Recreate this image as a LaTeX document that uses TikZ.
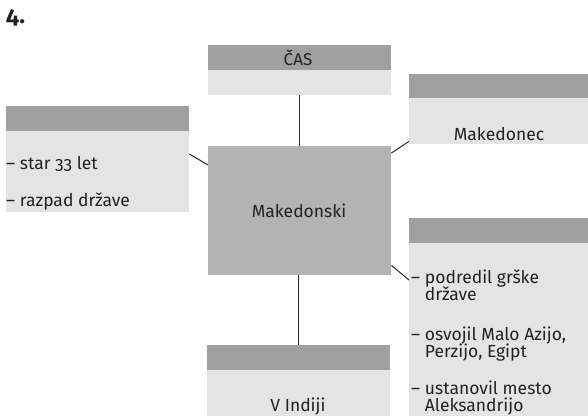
\documentclass[tikz,border=0pt]{standalone}
\usepackage{fontspec}
\setmainfont[Numbers=OldStyle]{Fira Sans}
\usetikzlibrary{calc}
\definecolor{hdr}{RGB}{160,160,160}
\definecolor{bodyc}{RGB}{228,228,228}
\definecolor{mid}{RGB}{179,179,179}
\definecolor{txt}{RGB}{34,34,34}
\newcommand{\dashind}{\hphantom{– }}
\tikzset{
  hdrbox/.style={fill=hdr, draw=none, anchor=north west, inner sep=0pt, minimum height=25pt},
  bodybox/.style={fill=bodyc, draw=none, anchor=north west, inner sep=0pt},
  midbox/.style={fill=mid, draw=none, anchor=north west, inner sep=0pt},
  lbl/.style={text=txt, font=\fontsize{17.5}{18}\selectfont, inner sep=0pt},
  conn/.style={draw=black!85, line width=1pt}
}
\begin{document}
\begin{tikzpicture}[x=1pt,y=-1pt]
\useasboundingbox (0,0) rectangle (588,416);
% title
\node[anchor=base west, inner sep=0pt, font=\fontsize{24}{25}\selectfont\bfseries, text=txt] (title) at (6,23) {4.};
% CAS
\node[hdrbox, minimum width=183pt] (casH) at (208,45) {};
\node[bodybox, minimum width=183pt, minimum height=25pt] (casB) at (208,70) {};
\node[lbl, anchor=base, font=\fontsize{17}{18}\selectfont] (casT) at (298,65) {ČAS};
% center
\node[midbox, minimum width=183pt, minimum height=129pt] (center) at (208,146) {};
\node[lbl, anchor=base] (centT) at (299,217) {Makedonski};
% Makedonec
\node[hdrbox, minimum width=179pt, minimum height=24pt] (makH) at (409,74) {};
\node[bodybox, minimum width=179pt, minimum height=46pt] (makB) at (409,98) {};
\node[lbl, anchor=base] (makT) at (499,140) {Makedonec};
% left
\node[hdrbox, minimum width=183pt] (leftH) at (6,106) {};
\node[bodybox, minimum width=183pt, minimum height=81pt] (leftB) at (6,131) {};
\node[lbl, anchor=base west] (l1) at (6,169) {– star 33 let};
\node[lbl, anchor=base west] (l2) at (6,206.5) {– razpad države};
% right bottom
\node[hdrbox, minimum width=179pt] (rbH) at (409,218) {};
\node[bodybox, minimum width=179pt, minimum height=173pt] (rbB) at (409,243) {};
\node[lbl, anchor=base west] (r1) at (411,283) {– podredil grške};
\node[lbl, anchor=base west] (r2) at (411,300) {\dashind države};
\node[lbl, anchor=base west] (r3) at (411,340) {– osvojil Malo Azijo,};
\node[lbl, anchor=base west] (r4) at (411,357) {\dashind Perzijo, Egipt};
\node[lbl, anchor=base west] (r5) at (411,394) {– ustanovil mesto};
\node[lbl, anchor=base west] (r6) at (411,411) {\dashind Aleksandrijo};
% bottom
\node[hdrbox, minimum width=183pt] (botH) at (207,345) {};
\node[bodybox, minimum width=183pt, minimum height=46pt] (botB) at (207,370) {};
\node[lbl, anchor=base] (botT) at (298,411.5) {V Indiji};
% connectors
\draw[conn] (casB.south) -- (casB.south |- center.north);
\draw[conn] (center.south -| botH.north) -- (botH.north);
\draw[conn] ($(center.north east)+(0,7)$) -- ($(makB.south west)+(0,-3)$);
\draw[conn] ($(leftB.north east)+(0,23)$) -- ($(center.north west)+(0,19)$);
\draw[conn] ($(center.south east)+(0,-10)$) -- ($(rbB.north west)+(0,37)$);
\end{tikzpicture}
\end{document}
